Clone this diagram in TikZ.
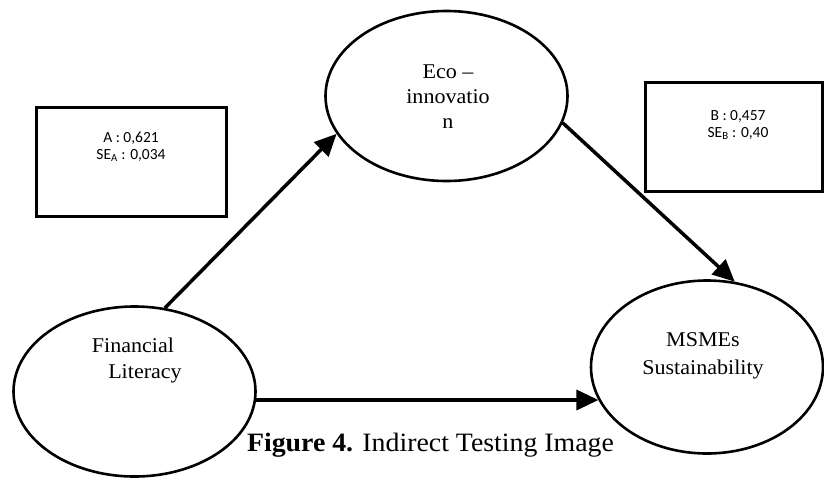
\documentclass[tikz,border=0pt]{standalone}
\usepackage{fontspec}
\setmainfont{Liberation Serif}[FakeStretch=1.05]
\newfontfamily\boxfont{Carlito}
\usetikzlibrary{shapes.geometric,arrows.meta}
\tikzset{
  ell/.style={draw=black, line width=2.6pt, ellipse, inner sep=0pt},
  valbox/.style={draw=black, line width=3pt, rectangle, inner sep=0pt, anchor=north west},
  lbl/.style={align=center, inner sep=0pt, anchor=base, font=\fontsize{21}{25}\selectfont},
  vallbl/.style={align=center, inner sep=0pt, anchor=base, font=\boxfont\fontsize{15.5}{17}\selectfont},
  arr/.style={line width=3.5pt, -{Triangle[length=22pt,width=20pt]}}
}
\begin{document}
\begin{tikzpicture}[x=1pt,y=-1pt]
\useasboundingbox (0,0) rectangle (824,482);
\fill[white] (0,0) rectangle (824,482);

% ellipses
\node[ell, minimum width=242pt, minimum height=170pt] (eco) at (446.5,96) {};
\node[ell, minimum width=242pt, minimum height=170pt] (fl) at (134.5,391.5) {};
\node[ell, minimum width=232pt, minimum height=173pt] (mse) at (707,367) {};

% value boxes
\node[valbox, minimum width=190pt, minimum height=109pt] (ba) at (34.5,105.5) {};
\node[valbox, minimum width=177pt, minimum height=109pt] (bb) at (643.5,80.5) {};

% labels (base anchor = baseline of last line)
\node[lbl] (ecot) at (448,128) {Eco –\\innovatio\\n};
\node[lbl] (flt1) at (133,352) {Financial};
\node[lbl] (flt2) at (145,378) {Literacy};
\node[lbl, font=\fontsize{21}{28}\selectfont] (mset) at (703,374) {MSMEs\\Sustainability};

\node[vallbl] (at) at (131,159) {A : 0,621\\SE\textsubscript{A} : 0,034};
\node[vallbl] (bt) at (738,137) {B : 0,457\\SE\textsubscript{B} : 0,40};

% connectors
\draw[arr] (fl.70.6) -- (eco.199.7);
\draw[arr] (eco.-13.5) -- (mse.72);
\draw[arr] (fl.-4) -- (fl.-4 -| mse.197);

% caption
\node[anchor=base, inner sep=0pt, font=\fontsize{26.5}{31}\selectfont] (cap) at (430.5,451) {\textbf{Figure 4.} Indirect Testing Image};
\end{tikzpicture}
\end{document}
